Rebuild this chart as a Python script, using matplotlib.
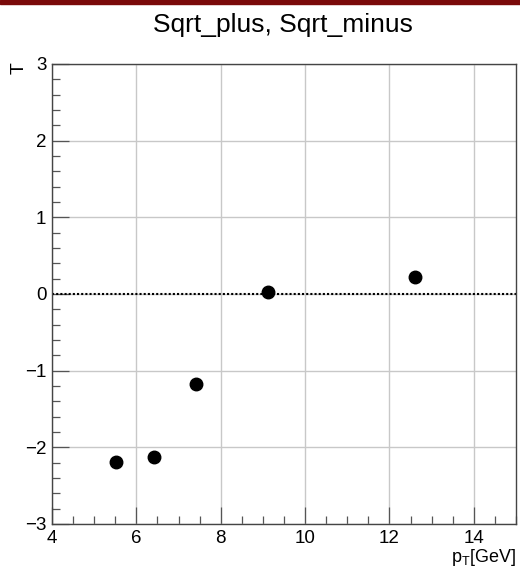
import matplotlib
matplotlib.use("Agg")
import matplotlib.pyplot as plt
from matplotlib.patches import Rectangle
from matplotlib.ticker import MultipleLocator

plt.rcParams['font.family'] = ['Liberation Sans', 'DejaVu Sans']

# data
pt = [5.52, 6.42, 7.42, 9.12, 12.6]
T = [-2.19, -2.12, -1.18, 0.03, 0.22]

fig = plt.figure(figsize=(5.2, 5.68), dpi=100)
fig.patches.append(Rectangle((0, 1 - 4 / 568), 1, 4 / 568, transform=fig.transFigure,
                             color='#7a0a0a', zorder=10))

ax = fig.add_axes([52 / 520, 1 - 524 / 568, 464 / 520, 460 / 568])
ax.set_xlim(4, 15)
ax.set_ylim(-3, 3)

ax.xaxis.set_major_locator(MultipleLocator(2))
ax.xaxis.set_minor_locator(MultipleLocator(0.5))
ax.yaxis.set_major_locator(MultipleLocator(1))
ax.yaxis.set_minor_locator(MultipleLocator(0.2))
ax.tick_params(which='both', direction='in', top=False, right=False,
               labelsize=13.5, color='#555555')
ax.tick_params(which='major', length=12, width=0.9, pad=4)
ax.tick_params(which='minor', length=6, width=0.9)
ax.grid(True, which='major', color='#c8c8c8', linewidth=1.0)
ax.set_axisbelow(True)
for s in ax.spines.values():
    s.set_color('#444444')
    s.set_linewidth(1.0)

ax.axhline(0, color='black', linestyle=(0, (1, 1)), linewidth=1.5, zorder=2)
ax.plot(pt, T, 'o', color='black', markersize=9, zorder=3)

fig.text(283 / 520, 1 - 25 / 568, 'Sqrt_plus, Sqrt_minus', ha='center', va='center',
         fontsize=19)
fig.text(19 / 520, 1 - 62 / 568, 'T', rotation=90, ha='center', va='top', fontsize=14)
fig.text(516 / 520, 1 - 562 / 568, r'p$_\mathregular{T}$[GeV]', ha='right',
         va='baseline', fontsize=13)

fig.savefig('out.png', dpi=100)
